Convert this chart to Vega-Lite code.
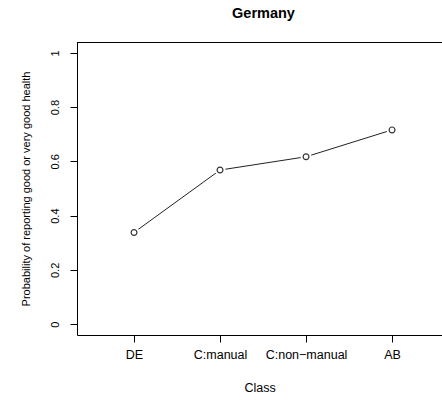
{
  "$schema": "https://vega.github.io/schema/vega-lite/v6.json",
  "autosize": "none",
  "padding": {"left": 77, "top": 42, "right": 0, "bottom": 65},
  "width": 365,
  "height": 293,
  "background": "white",
  "title": {"text": "Germany", "font": "Liberation Sans", "fontSize": 14.5, "fontWeight": "bold", "color": "black", "offset": 21, "anchor": "middle", "frame": "group", "dx": 4},
  "config": {
    "view": {"stroke": null},
    "axis": {"labelFont": "Liberation Sans", "titleFont": "Liberation Sans", "labelFontSize": 11, "titleFontSize": 11, "titleFontWeight": "normal", "labelColor": "black", "titleColor": "black", "tickColor": "black", "domain": true, "domainColor": "black", "grid": false, "tickSize": 7}
  },
  "data": {"values": [
    {"Class": "DE", "p": 0.338},
    {"Class": "C:manual", "p": 0.568},
    {"Class": "C:non-manual", "p": 0.617},
    {"Class": "AB", "p": 0.716}
  ]},
  "encoding": {
    "x": {"field": "Class", "type": "ordinal", "sort": null,
      "scale": {"type": "point", "padding": 0.622, "align": 0.533},
      "axis": {"title": "Class", "labelAngle": 0, "labelFontSize": 12.5, "titleFontSize": 12.5, "labelPadding": 6, "titlePadding": 21, "labelExpr": "replace(datum.label, '-', '\u2212')"}},
    "y": {"field": "p", "type": "quantitative",
      "scale": {"domain": [-0.04, 1.04], "nice": false, "zero": false},
      "axis": {"title": "Probability of reporting good or very good health", "values": [0, 0.2, 0.4, 0.6, 0.8, 1], "format": ".1~f", "labelAngle": -90, "labelAlign": "center", "labelBaseline": "bottom", "labelPadding": 10, "titlePadding": 18}}
  },
  "layer": [
    {"mark": {"type": "rule", "color": "black", "strokeWidth": 1, "yOffset": 0.5}, "encoding": {"x": null, "y": {"datum": 1.04}}},
    {"mark": {"type": "line", "color": "#222", "strokeWidth": 1}},
    {"mark": {"type": "point", "shape": "circle", "filled": true, "color": "white", "size": 120, "opacity": 1}},
    {"mark": {"type": "point", "shape": "circle", "filled": false, "color": "#333", "strokeWidth": 1.2, "size": 34, "opacity": 1}}
  ]
}
